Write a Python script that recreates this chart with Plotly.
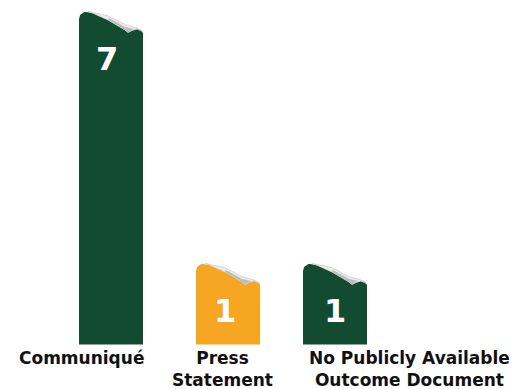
import math
import plotly.graph_objects as go

# ---- data ----
CATEGORIES = ["Communiqué", "Press Statement", "No Publicly Available Outcome Document"]
LABELS = ["Communiqué", "Press<br>Statement", "No Publicly Available<br>Outcome Document"]
VALUES = [7, 1, 1]
COLORS = ["#134B30", "#F6A623", "#134B30"]

# ---- layout / style constants (pixels) ----
W, H = 522, 389
PX_X = 112.0          # pixels per category step
PX_Y = 42.0           # pixels per value unit
FLOOR = -0.917        # bar base (value units)
X0_PX = 111.0         # pixel of first category centre
FLOOR_PX = 344.5      # pixel row of bar base
BAR_W_PX = 64
BAR_NUDGE_PX = [0, 5, 0]
LABEL_SHIFT_PX = [-30, -1, 74]
NUM_SHIFT_PX = [-4, -3.5, -0.5]
R_TL = 7              # top-left corner radius, px

# page-curl outline, (dx from bar left, dy below bar top) in px
EDGE = [(7, 0), (14, 1.3), (29, 8), (46, 18), (49, 20.5), (53, 18.5), (58, 17), (62, 18), (64, 21)]
CURL_TOP = [(9, -0.6), (29, 3.8), (46, 12.5), (58, 16.0), (63.5, 19.5)]
CURL_SHADE = [(30, 6.0), (46, 15.0), (55, 17.0), (49, 20.5), (46, 18), (29, 8)]

xpos = list(range(len(CATEGORIES)))
bw = BAR_W_PX / PX_X

fig = go.Figure()
fig.add_trace(go.Bar(
    x=xpos,
    y=[v - FLOOR for v in VALUES],
    base=FLOOR,
    width=bw,
    offset=[-bw / 2 + n / PX_X for n in BAR_NUDGE_PX],
    marker=dict(color=COLORS, line=dict(width=0)),
    hoverinfo="skip",
))

arc = [(R_TL - R_TL * math.cos(math.radians(a)), R_TL - R_TL * math.sin(math.radians(a)))
       for a in range(0, 91, 10)]

for i, v in enumerate(VALUES):
    left = xpos[i] - bw / 2 + BAR_NUDGE_PX[i] / PX_X

    def to_xy(pts):
        return ([left + dx / PX_X for dx, dy in pts], [v - dy / PX_Y for dx, dy in pts])

    # white mask over the top edge: rounded top-left and curled top-right
    cut = [(-2, -4), (-2, R_TL)] + arc + EDGE + [(67, 21), (67, -4)]
    cx, cy = to_xy(cut)
    fig.add_trace(go.Scatter(x=cx, y=cy, fill="toself", fillcolor="white",
                             line=dict(width=0), mode="lines", hoverinfo="skip"))
    # curled paper
    curl = CURL_TOP + [(58, 17), (53, 18.5), (49, 20.5), (46, 18), (29, 8), (14, 1.3), (9, -0.6)]
    ux, uy = to_xy(curl)
    fig.add_trace(go.Scatter(x=ux, y=uy, fill="toself", fillcolor="#ececec",
                             line=dict(width=0.7, color="#c9c9c9"), mode="lines", hoverinfo="skip"))
    sx, sy = to_xy(CURL_SHADE)
    fig.add_trace(go.Scatter(x=sx, y=sy, fill="toself", fillcolor="#bdbdbd",
                             line=dict(width=0), mode="lines", hoverinfo="skip"))

annotations = []
for i, v in enumerate(VALUES):
    annotations.append(dict(
        x=xpos[i], y=v, xref="x", yref="y", text=str(v), showarrow=False,
        yanchor="middle", xanchor="center", yshift=-47,
        xshift=BAR_NUDGE_PX[i] + NUM_SHIFT_PX[i],
        font=dict(family="DejaVu Sans", size=32, color="white", weight=700),
    ))
    annotations.append(dict(
        x=xpos[i], y=FLOOR, xref="x", yref="y", text=LABELS[i], showarrow=False,
        yanchor="top", xanchor="center", yshift=-1, xshift=LABEL_SHIFT_PX[i],
        font=dict(family="DejaVu Sans", size=17, color="#111111", weight=700),
    ))

fig.update_layout(
    width=W, height=H,
    margin=dict(l=0, r=0, t=0, b=0),
    paper_bgcolor="white", plot_bgcolor="white",
    showlegend=False,
    xaxis=dict(range=[-X0_PX / PX_X, (W - X0_PX) / PX_X], visible=False, fixedrange=True),
    yaxis=dict(range=[FLOOR - (H - FLOOR_PX) / PX_Y, FLOOR + FLOOR_PX / PX_Y], visible=False, fixedrange=True),
    annotations=annotations,
)

fig.write_html("out.html")
